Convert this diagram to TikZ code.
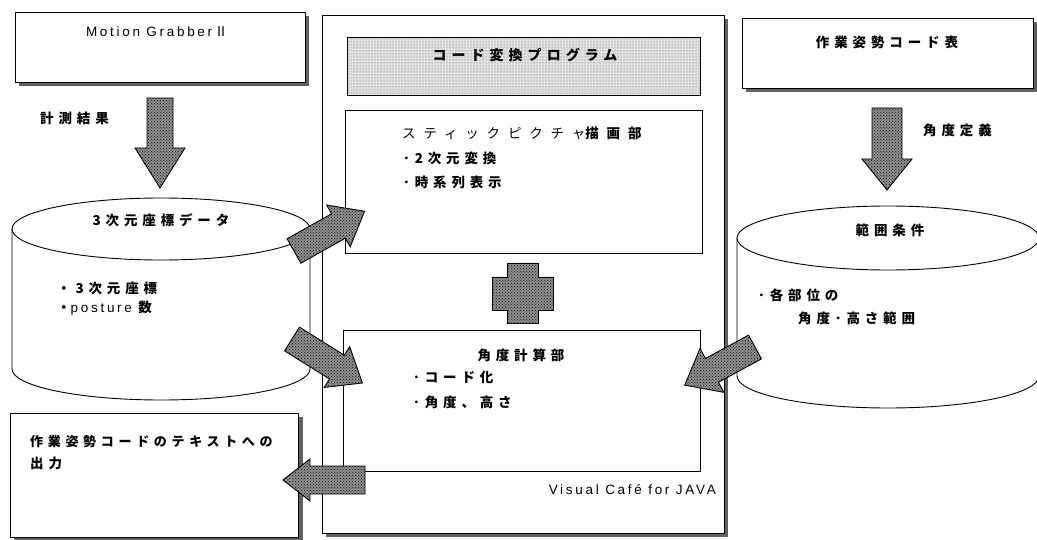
\documentclass[tikz,border=0pt]{standalone}
\usepackage{fontspec}
\usetikzlibrary{patterns}
\setmainfont{Noto Sans CJK JP}
\newfontfamily\jp[LetterSpace=36]{Noto Sans CJK JP}
\newfontfamily\jpw[LetterSpace=58]{Noto Sans CJK JP}
\newfontfamily\lat[LetterSpace=20]{Liberation Sans}
\newfontfamily\latsym{Noto Sans CJK JP}
\tikzset{
  box/.style={draw=black, line width=0.9pt, fill=white, anchor=north west, inner sep=0pt, outer sep=0pt},
  shadowfill/.style={fill=black!62},
  blockarrow/.style={draw=black, line width=0.9pt, fill=black!45, postaction={pattern=crosshatch dots, pattern color=black!90}},
  headerfill/.style={draw=black, line width=0.9pt, fill=black!12, postaction={pattern=dots, pattern color=black!60}},
  cyl/.style={draw=black, line width=0.9pt},
  jt/.style={font=\jp\bfseries\fontsize{13.5}{15}\selectfont, inner sep=0pt},
  jtw/.style={font=\jpw\fontsize{13.5}{15}\selectfont, inner sep=0pt},
  jtb/.style={font=\jp\bfseries\fontsize{14}{15}\selectfont, inner sep=0pt},
  lt/.style={font=\lat\fontsize{13.5}{15}\selectfont, inner sep=0pt},
}
\begin{document}
\begin{tikzpicture}[x=1pt,y=-1pt]
\useasboundingbox (0,0) rectangle (1037,540);
\clip (0,0) rectangle (1037,540);

% ---- Motion Grabber box
\fill[shadowfill] (19,16) rectangle (309,86);
\node[box, minimum width=290, minimum height=70] (mg) at (15,12) {};
\node[lt] (mgt) at (157,32) {Motion Grabber\,{\latsym Ⅱ}};

% ---- code table box
\fill[shadowfill] (746,22) rectangle (1037,92);
\node[box, minimum width=291, minimum height=70] (ct) at (742,18) {};
\node[jt] (ctt) at (887,42) {作業姿勢コード表};

% ---- central program box
\fill[shadowfill] (326,19) rectangle (728,537);
\node[box, minimum width=402, minimum height=518] (prog) at (322,15) {};
\node[box, headerfill, minimum width=353, minimum height=58] (hdr) at (347,37) {};
\node[jtb] (hdrt) at (525,55) {コード変換プログラム};
\node[box, minimum width=357, minimum height=143] (stick) at (345,110) {};
\node[jtw, anchor=west] (sticktitle) at (402,133) {スティックピクチャ{\bfseries 描画部}};
\node[jt, anchor=west] (stick1) at (403,158) {･2次元変換};
\node[jt, anchor=west] (stick2) at (403,182) {･時系列表示};
\node[box, minimum width=357, minimum height=141] (angle) at (343,330) {};
\node[jt] (angletitle) at (521,355) {角度計算部};
\node[jt, anchor=west] (angle1) at (413,377) {･コード化};
\node[jt, anchor=west] (angle2) at (413,402) {･角度、高さ};
\node[lt, anchor=east] (vc) at (716,490) {Visual Café for JAVA};

% plus sign
\draw[blockarrow] (507,263) -- (538,263) -- (538,277) -- (553,277) -- (553,310) -- (538,310)
  -- (538,323) -- (507,323) -- (507,310) -- (492,310) -- (492,277) -- (507,277) -- cycle;

% ---- left cylinder
\draw[cyl, fill=white] (12,229) -- (12,369) arc[start angle=180, end angle=0, x radius=149, y radius=31] -- (310,229);
\draw[cyl, fill=white] (161,229) ellipse[x radius=149, y radius=31];
\coordinate (lcyl) at (161,229);
\node[jt] (lcylt) at (161,220) {3次元座標データ};
\node[jt, anchor=west] (lc1) at (57,288) {・3次元座標};
\node[anchor=west, inner sep=0pt] (lc2) at (57,308) {{\jp\bfseries\fontsize{13.5}{15}\selectfont ・}{\lat\fontsize{13.5}{15}\selectfont posture }{\jp\bfseries\fontsize{13.5}{15}\selectfont 数}};

% ---- right cylinder
\draw[cyl, fill=white] (737,238) -- (737,376) arc[start angle=180, end angle=0, x radius=151, y radius=32] -- (1039,238);
\draw[cyl, fill=white] (888,238) ellipse[x radius=151, y radius=32];
\coordinate (rcyl) at (888,238);
\node[jt] (rcylt) at (890,230) {範囲条件};
\node[jt, anchor=west] (rc1) at (758,295) {･各部位の};
\node[jt, anchor=west] (rc2) at (798,318) {角度･高さ範囲};

% ---- output box
\fill[shadowfill] (14,417) rectangle (303,541);
\node[box, minimum width=288, minimum height=124] (out) at (10,413) {};
\node[jt, anchor=west, font=\jp\bfseries\fontsize{13}{15}\selectfont] (out1) at (30,442) {作業姿勢コードのテキストへの};
\node[jt, anchor=west] (out2) at (30,463) {出力};

% ---- labels
\node[jt, anchor=west] (meas) at (40,118) {計測結果};
\node[jt, anchor=west] (angdef) at (923,130) {角度定義};

% ---- vertical block arrows
\draw[blockarrow] (147,98) -- (173,98) -- (173,148) -- (185,148) -- (160,188) -- (135,148) -- (147,148) -- cycle;
\draw[blockarrow] (872,108) -- (902,108) -- (902,159) -- (912,159) -- (887,190) -- (862,159) -- (872,159) -- cycle;

% ---- diagonal / horizontal block arrows
\draw[blockarrow, shift={(294,251)}, rotate=29.4]
  (0,-14) -- (51,-14) -- (51,-24) -- (81,0) -- (51,24) -- (51,14) -- (0,14) -- cycle;
\draw[blockarrow, shift={(292,339)}, rotate=-32]
  (0,-14) -- (53,-14) -- (53,-24) -- (83,0) -- (53,24) -- (53,14) -- (0,14) -- cycle;
\draw[blockarrow, shift={(755,347)}, rotate=208.5]
  (0,-13.5) -- (49,-13.5) -- (49,-25) -- (80,0) -- (49,25) -- (49,13.5) -- (0,13.5) -- cycle;
\draw[blockarrow, shift={(365,480)}, rotate=180]
  (0,-14) -- (55,-14) -- (55,-21) -- (82,0) -- (55,21) -- (55,14) -- (0,14) -- cycle;
\end{tikzpicture}
\end{document}
